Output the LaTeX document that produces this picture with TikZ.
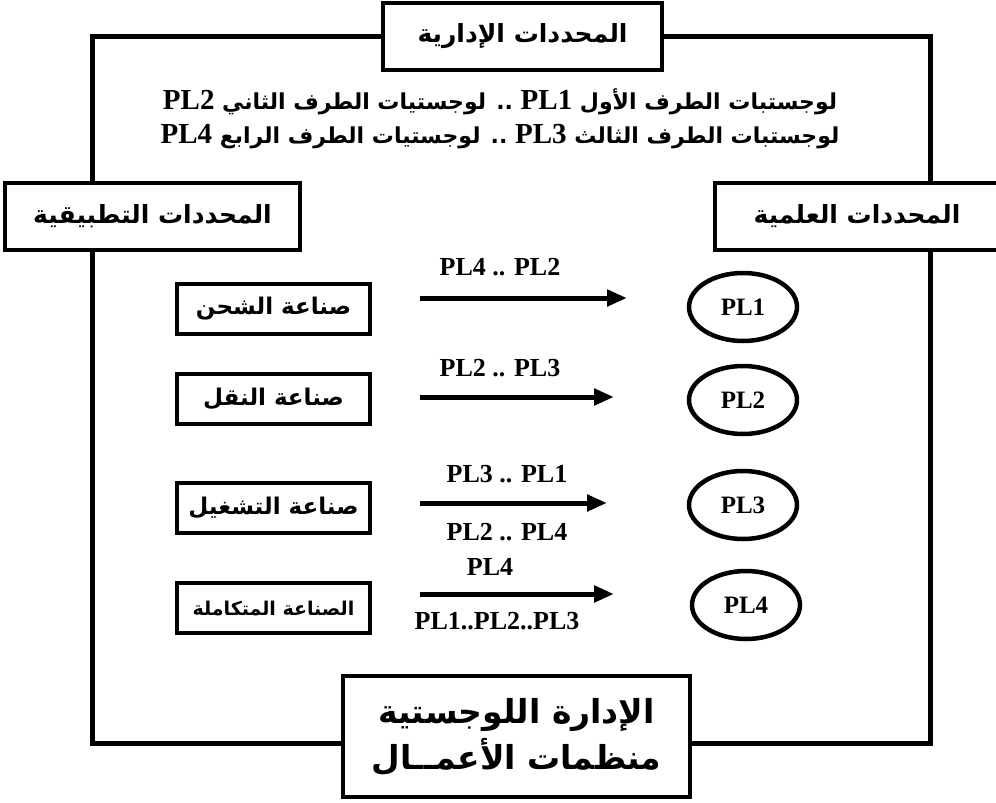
\documentclass[tikz,border=0pt]{standalone}
\usepackage{fontspec}
\setmainfont{Liberation Serif}
\newfontfamily\arabicfont[Script=Arabic]{DejaVu Sans}
\TeXXeTstate=1
\usetikzlibrary{arrows.meta,shapes.geometric}
\newcommand\artxt[1]{{\arabicfont\bfseries\beginR #1\endR}}
\newcommand\lat[1]{\beginL{\rmfamily\bfseries\fontsize{29}{30}\selectfont #1}\endL}
\begin{document}
\begin{tikzpicture}[x=1pt,y=-1pt,
  frameline/.style={line width=5pt,line join=miter},
  bigbox/.style={draw,line width=4.5pt,inner sep=0pt,align=center},
  rowbox/.style={draw,line width=4pt,inner sep=0pt,minimum width=193pt,minimum height=50pt,font=\fontsize{23}{26}\selectfont},
  plell/.style={draw,ellipse,line width=4.5pt,inner sep=0pt,minimum width=108pt,minimum height=68pt,font=\bfseries\fontsize{25}{26}\selectfont},
  flow/.style={line width=5pt,-{Triangle[length=20pt 0 0,width=16pt 0 0]}},
  lbl/.style={inner sep=0pt,font=\bfseries\fontsize{26}{28}\selectfont}
]
\useasboundingbox (0,0) rectangle (996,803);

% boxes
\node[bigbox,minimum width=279pt,minimum height=67pt,font=\fontsize{25}{28}\selectfont] (topbox) at (522.5,36.5) {\artxt{المحددات الإدارية}};
\node[bigbox,minimum width=295pt,minimum height=67pt,font=\fontsize{25}{28}\selectfont] (leftbox) at (152.5,216.5) {\artxt{المحددات التطبيقية}};
\node[inner sep=0pt,minimum width=284pt,minimum height=67pt,font=\fontsize{25}{28}\selectfont] (rightbox) at (857,216.5) {\artxt{المحددات العلمية}};
\draw[line width=4.5pt] (rightbox.north east) -- (rightbox.north west) -- (rightbox.south west) -- (rightbox.south east);
\node[bigbox,minimum width=347pt,minimum height=121pt,font=\fontsize{33}{46}\selectfont] (botbox) at (516.5,736.5) {\artxt{الإدارة اللوجستية}\\\artxt{منظمات الأعمــال}};

% frame
\coordinate (tl) at (92,36.5);
\coordinate (tr) at (930,36.5);
\coordinate (bl) at (92,743);
\coordinate (br) at (930,743);
\draw[frameline] (topbox.west) -- (tl) -- (tl |- leftbox.north);
\draw[frameline] (tl |- leftbox.south) -- (bl) -- (bl -| botbox.west);
\draw[frameline] (topbox.east) -- (tr) -- (tr |- rightbox.north);
\draw[frameline] (tr |- rightbox.south) -- (br) -- (br -| botbox.east);

% header text lines
\node[inner sep=0pt,font=\fontsize{22}{26}\selectfont] (line1) at (500,102)
  {\artxt{لوجستبات الطرف الأول \lat{PL1} .. لوجستيات الطرف الثاني \lat{PL2}}};
\node[inner sep=0pt,font=\fontsize{22}{26}\selectfont] (line2) at (500,137)
  {\artxt{لوجستبات الطرف الثالث \lat{PL3} .. لوجستيات الطرف الرابع \lat{PL4}}};

% rows
\node[rowbox] (r1) at (273.5,309) {\artxt{صناعة الشحن}};
\node[rowbox] (r2) at (273.5,399) {\artxt{صناعة النقل}};
\node[rowbox] (r3) at (273.5,508) {\artxt{صناعة التشغيل}};
\node[rowbox,font=\fontsize{19}{22}\selectfont] (r4) at (273.5,608) {\artxt{الصناعة المتكاملة}};

\node[plell] (e1) at (743,307) {PL1};
\node[plell] (e2) at (743,400) {PL2};
\node[plell] (e3) at (743,505) {PL3};
\node[plell] (e4) at (746,605) {PL4};

\coordinate (a1s) at (420,298); \coordinate (a1e) at (627,298);
\coordinate (a2s) at (420,397); \coordinate (a2e) at (614,397);
\coordinate (a3s) at (420,503); \coordinate (a3e) at (607,503);
\coordinate (a4s) at (420,594); \coordinate (a4e) at (614,594);
\draw[flow] (a1s) -- (a1e);
\draw[flow] (a2s) -- (a2e);
\draw[flow] (a3s) -- (a3e);
\draw[flow] (a4s) -- (a4e);

\node[lbl] (l1) at (500,267) {PL4 .. PL2};
\node[lbl] (l2) at (500,368) {PL2 .. PL3};
\node[lbl] (l3a) at (507,474) {PL3 .. PL1};
\node[lbl] (l3b) at (507,532) {PL2 .. PL4};
\node[lbl] (l4a) at (490,567) {PL4};
\node[lbl] (l4b) at (497,621) {PL1..PL2..PL3};
\end{tikzpicture}
\end{document}
